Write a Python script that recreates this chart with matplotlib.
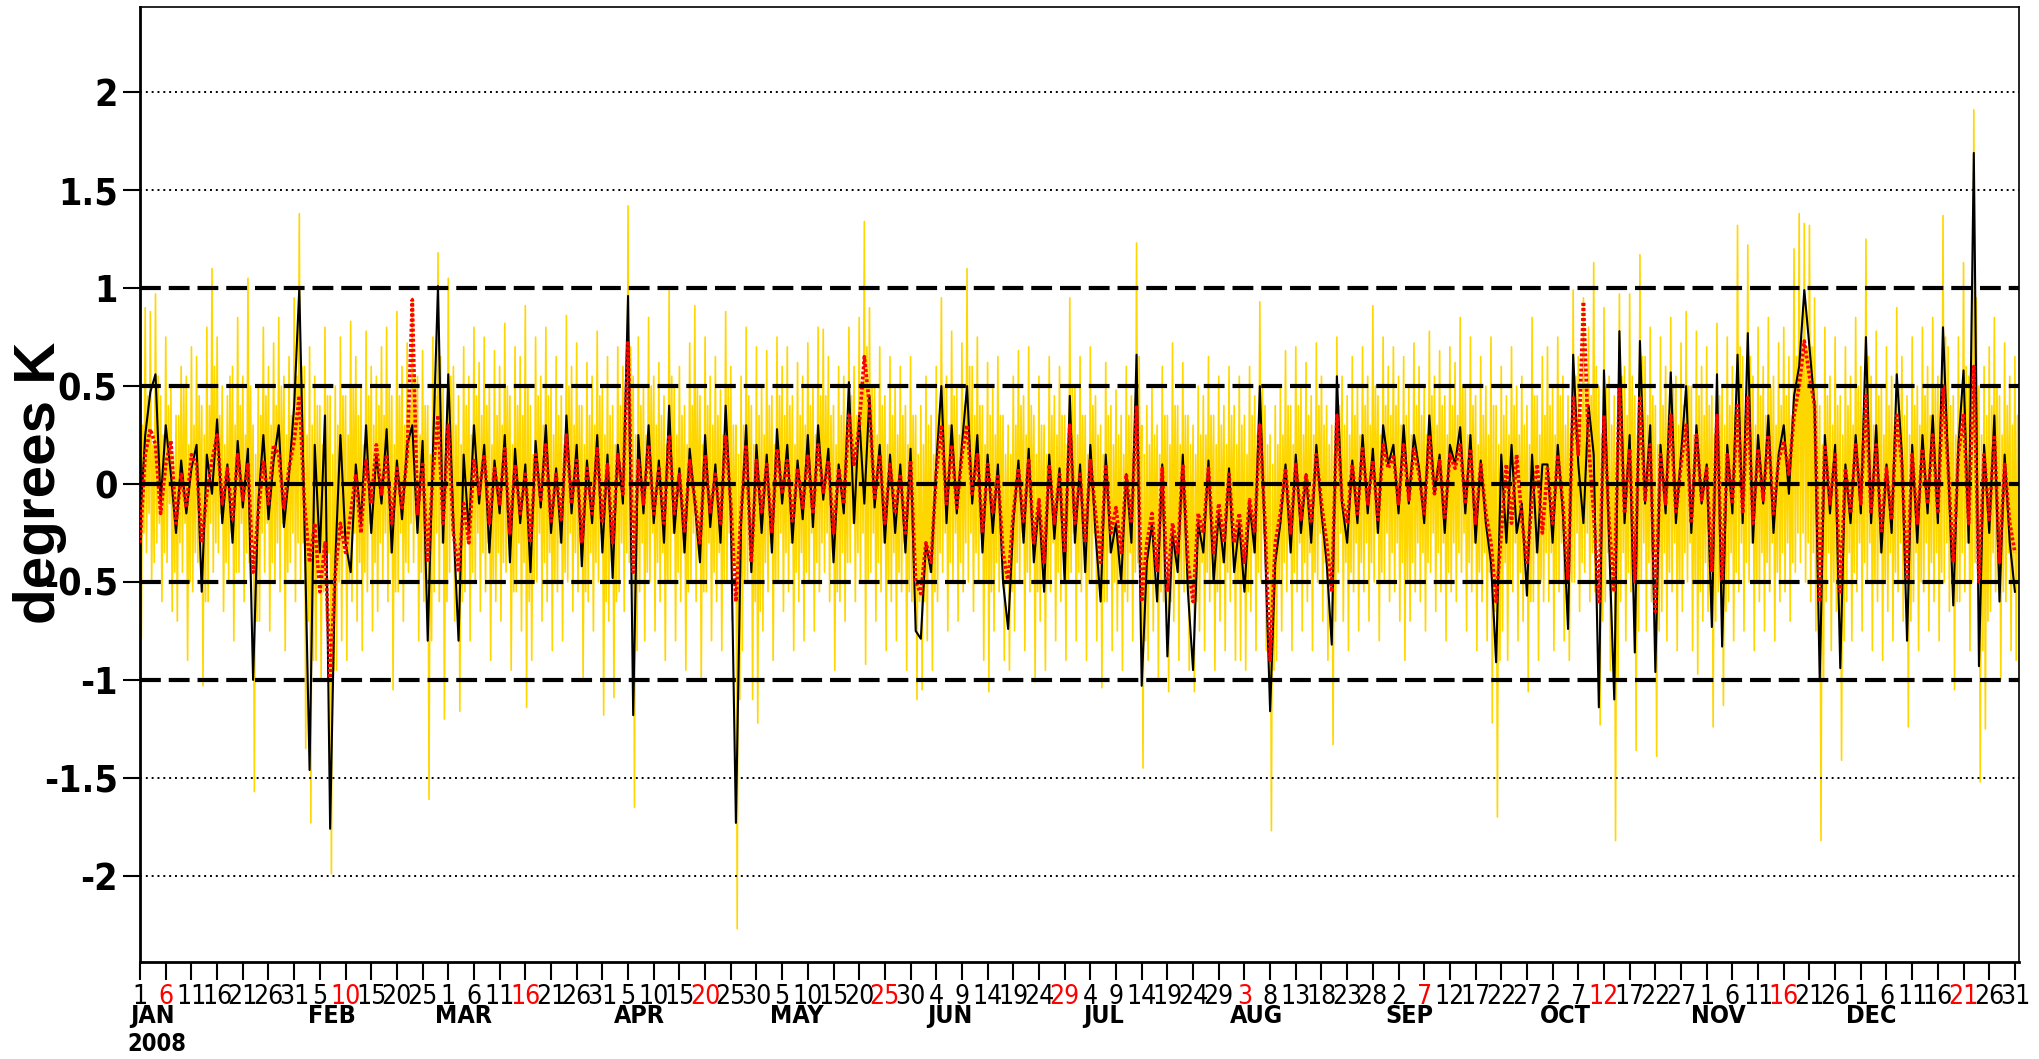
import datetime as dt
import os

import numpy as np
import matplotlib
matplotlib.use("Agg")
import matplotlib.pyplot as plt
from matplotlib import font_manager
from matplotlib.font_manager import FontProperties

# daily series, hundredths of a degree, one line per month (2008, 366 days)
black_k = [
    -20, 25, 47, 56, -10, 30, 5, -25, 12, -15, 8, 20, -55, 15, -5, 33, -20, 10, -30, 22, -12, 18, -100, -10, 25, -18, 12, 30, -22, 5, 40,
    100, -20, -146, 20, -35, 35, -176, -40, 25, -30, -45, 10, -20, 30, -25, 15, -10, 28, -35, 12, -18, 20, 30, -25, 22, -80, 15, 101, -30,
    56, -20, -80, 15, -25, 30, -10, 20, -35, 12, -15, 25, -40, 18, -20, 10, -45, 22, -12, 30, -25, 8, -30, 35, -15, 20, -42, 12, -20, 25, -35,
    15, -48, 20, -10, 96, -118, 25, -15, 30, -20, 12, -30, 40, -25, 8, -35, 18, -10, -40, 25, -22, 10, -30, 40, -15, -173, -20, 30, -45, 20,
    -25, 15, -35, 28, -10, 20, -30, 12, -18, 25, -22, 30, -8, 18, -40, 10, -15, 52, -20, 35, -10, 45, -12, 20, -30, 15, -25, 10, -35, 18, -75,
    -79, -30, -45, 10, 50, -20, 30, -15, 20, 50, -10, 25, -35, 15, -25, 10, -50, -74, -20, 12, -30, 18, -40, -10, -55, 15, -28, 8, -50, 45,
    -30, 10, -45, 20, -25, -60, 15, -35, -20, -50, 5, -30, 66, -103, -40, -20, -60, 10, -88, -25, -45, 15, -55, -95, -20, -35, 12, -50, -15, -40, 8,
    -45, -20, -55, -10, -35, 50, -30, -116, -40, -20, 10, -35, 15, -25, 5, -30, 20, -15, -40, -82, 55, -10, -30, 12, -20, 25, -15, 18, -25, 30, 10,
    20, -15, 30, -10, 25, 8, -20, 35, -5, 15, -25, 20, 10, 29, -15, 25, -30, 12, -20, -40, -91, 15, -30, 20, -25, -10, -57, 15, -35, 10,
    10, -30, 20, -15, -74, 66, 10, -20, 40, 15, -114, 58, -30, -110, 78, -20, 25, -86, 73, -10, 30, -96, 20, -15, 57, -20, 15, 50, -25, 30, -10,
    10, -73, 56, -83, 20, -15, 66, -20, 77, -30, 25, -10, 35, -25, 15, 30, -5, 45, 60, 99, 70, 40, -100, 25, -15, 20, -94, 10, -20, 25,
    -15, 75, -20, 30, -35, 10, -25, 56, 15, -80, 20, -30, 25, -15, 35, -20, 80, 10, -62, 20, 58, -30, 169, -93, 20, -25, 35, -60, 15, -30, -55,
]

red_k = [
    -30, 15, 28, 20, -15, 10, 22, -20, 5, -12, 15, 10, -30, -5, 12, 25, -10, 8, -18, 15, -8, 10, -45, -15, 12, -10, 20, 15, -12, 8, 22,
    45, -10, -40, -20, -55, -30, -99, -45, -20, -35, -15, 5, -25, 12, -10, 20, -5, 15, -20, 8, -12, 15, 94, -15, 10, -40, 5, 35, -20,
    30, -25, -45, -10, -30, 12, -5, 15, -20, 8, -10, 18, -25, 10, -15, 5, -30, 15, -8, 20, -20, 5, -18, 25, -10, 12, -30, 8, -15, 18, -20,
    10, -30, 15, -5, 73, -45, 12, -10, 20, -15, 8, -20, 25, -15, 5, -25, 12, -8, -30, 15, -15, 5, -20, 25, -10, -60, -15, 20, -40, 12,
    -15, 10, -25, 18, -5, 12, -20, 8, -12, 15, -15, 20, -5, 12, -25, 8, -10, 35, 10, 30, 65, 40, -8, 15, -20, 10, -15, 5, -25, 12, -50,
    -56, -30, -40, 5, 30, -10, 20, -12, 15, 30, -5, 15, -25, 10, -15, 5, -35, -50, -15, 8, -20, 12, -30, -8, -40, 10, -20, 5, -35, 30,
    -20, 5, -30, 12, -15, -40, 10, -25, -12, -35, 5, -20, 40, -60, -30, -15, -45, 8, -55, -20, -35, 10, -40, -60, -15, -25, 8, -35, -10, -30, 5,
    -30, -15, -40, -8, -25, 30, -20, -90, -30, -15, 8, -25, 10, -18, 5, -20, 15, -10, -30, -55, 35, -8, -20, 10, -15, 18, -10, 12, -18, 20, 8,
    15, -10, 20, -8, 18, 5, -15, 25, -5, 12, -18, 15, 8, 20, -10, 18, -20, 10, -15, -30, -60, -25, 10, -20, 15, -18, -40, -8, 10, -25,
    8, -20, 15, -10, -50, 45, 15, 93, 20, -15, -60, 35, -20, -55, 50, -15, 18, -50, 45, -8, 20, -65, 15, -10, 35, -15, 10, 30, -20, 25, -8,
    8, -45, 35, -50, 15, -10, 40, -15, 45, -20, 18, -8, 25, -15, 12, 22, 5, 35, 50, 73, 55, 40, -60, 20, -10, 15, -55, 8, -15, 20,
    -10, 45, -15, 20, -25, 8, -18, 35, 10, -50, 15, -20, 18, -10, 25, -15, 50, 8, -40, 15, 35, -20, 60, -50, 15, -18, 25, -40, 10, -20, -35,
]

# sub-daily series: main peak and trough of each day
yellow_k = [
    40, -79, 90, -35, 88, -50, 97, -30, 45, -60, 75, -40, 50, -65, 35, -70, 60, -45, 55, -90, 70, -55, 65, -40, 40, -103, 80, -60, 110, -45, 75, -35,
    50, -65, 45, -50, 60, -80, 85, -45, 55, -60, 105, -40, 30, -157, 50, -70, 80, -45, 60, -75, 72, -50, 85, -55, 55, -85, 65, -40, 95, -60,
    138, -50, 60, -135, 70, -173, 55, -90, 40, -100, 80, -70, 45, -199, 50, -95, 75, -80, 45, -90, 83, -60, 65, -70, 50, -85, 78, -55, 60, -75,
    55, -65, 70, -50, 80, -60, 45, -105, 88, -55, 60, -70, 72, -45, 95, -40, 55, -80, 68, -60, 40, -161, 75, -55, 118, -60, 50, -120,
    105, -45, 60, -70, 45, -116, 70, -55, 55, -80, 80, -50, 62, -65, 75, -55, 50, -90, 68, -60, 60, -70, 82, -45, 45, -95, 70, -55, 65, -75,
    91, -114, 40, -90, 75, -50, 55, -70, 80, -60, 50, -85, 65, -55, 45, -80, 86, -50, 60, -65, 72, -55, 40, -100, 62, -60, 55, -75, 78, -50, 50, -118,
    65, -70, 40, -109, 70, -55, 60, -65, 142, -40, 55, -165, 75, -55, 50, -80, 85, -50, 55, -75, 62, -60, 45, -90, 99, -50, 50, -80, 60, -60,
    40, -95, 72, -50, 91, -60, 45, -100, 75, -55, 55, -80, 65, -60, 48, -85, 88, -50, 60, -70, 30, -227, 55, -85, 80, -50, 40, -110, 70, -122,
    50, -75, 68, -55, 45, -90, 75, -50, 60, -65, 70, -55, 45, -85, 62, -60, 55, -80, 72, -50, 50, -75, 80, -55, 79, -45, 65, -60, 40, -95, 60, -60,
    55, -70, 80, -40, 60, -60, 85, -50, 134, -92, 90, -45, 50, -70, 70, -55, 45, -85, 65, -60, 50, -80, 60, -55, 40, -95, 65, -60, 35, -110,
    40, -105, 55, -80, 35, -95, 60, -60, 95, -45, 55, -75, 78, -50, 50, -70, 72, -55, 110, -50, 60, -65, 75, -50, 40, -90, 62, -106, 50, -75,
    65, -55, 35, -90, 30, -95, 55, -75, 68, -50, 45, -85, 70, -55, 35, -101, 55, -70, 30, -95, 65, -55, 45, -80, 60, -60, 35, -90, 95, -45,
    50, -80, 65, -55, 35, -90, 70, -50, 45, -80, 30, -104, 62, -60, 40, -85, 48, -75, 35, -95, 60, -60, 45, -80, 123, -40, 30, -145, 40, -90,
    50, -75, 30, -100, 60, -60, 35, -106, 72, -70, 40, -90, 62, -55, 35, -95, 30, -106, 50, -75, 45, -85, 65, -60, 35, -95, 55, -70, 40, -85, 60, -60,
    40, -90, 55, -90, 35, -95, 60, -65, 45, -85, 93, -50, 40, -85, 25, -177, 40, -90, 50, -75, 68, -55, 40, -85, 70, -55, 50, -75, 62, -60, 45, -85,
    72, -50, 55, -70, 40, -90, 30, -133, 75, -45, 55, -70, 45, -85, 65, -55, 50, -75, 70, -55, 55, -70, 91, -50, 45, -80, 75, -50, 60, -60,
    70, -55, 55, -70, 65, -90, 50, -70, 72, -55, 60, -60, 50, -75, 78, -45, 55, -65, 68, -55, 45, -80, 70, -55, 62, -60, 85, -45, 50, -75,
    75, -55, 45, -85, 65, -60, 50, -80, 75, -122, 40, -170, 60, -75, 45, -90, 70, -55, 50, -80, 55, -70, 40, -106, 85, -60, 45, -90, 65, -60,
    70, -60, 50, -85, 75, -55, 55, -80, 45, -90, 99, -50, 65, -65, 95, -45, 80, -60, 113, -55, 50, -123, 90, -60, 55, -95, 45, -182, 97, -60, 60, -80,
    97, -55, 45, -136, 117, -50, 65, -75, 80, -60, 40, -139, 75, -65, 60, -80, 85, -55, 55, -85, 72, -65, 88, -50, 50, -85, 78, -97, 60, -70,
    70, -65, 45, -124, 82, -55, 50, -113, 75, -60, 60, -80, 132, -55, 65, -75, 122, -50, 55, -85, 80, -60, 60, -75, 85, -55, 55, -80, 72, -60,
    80, -55, 65, -70, 120, -45, 138, -40, 133, -50, 132, -60, 95, -75, 40, -182, 80, -60, 55, -85, 75, -65, 45, -141, 70, -60, 55, -80, 85, -55,
    60, -75, 125, -50, 55, -85, 78, -60, 50, -90, 70, -65, 55, -80, 90, -55, 65, -70, 45, -124, 75, -60, 50, -85, 80, -55, 60, -75, 85, -60, 55, -80,
    137, -50, 70, -65, 45, -105, 75, -60, 113, -55, 55, -85, 191, -40, 50, -152, 60, -125, 70, -65, 85, -55, 45, -100, 72, -60, 55, -85, 65, -90,
]

# sub-daily series: second, smaller peak and trough of each day
yellow2_k = [
    30, -25, 45, -15, 20, -40, 55, -20, 25, -35, 40, -10, 15, -45, 35, -30, 50, -20, 20, -50, 30, -35, 45, -25, 25, -60, 40, -20, 60, -30, 35, -15,
    20, -40, 55, -25, 30, -45, 40, -20, 25, -35, 50, -30, 15, -70, 35, -25, 45, -20, 30, -40, 40, -30, 50, -20, 25, -45, 35, -25, 55, -30,
    60, -30, 25, -70, 30, -90, 40, -45, 20, -55, 45, -35, 15, -95, 30, -50, 45, -30, 25, -50, 50, -25, 35, -40, 20, -45, 45, -20, 30, -40,
    40, -30, 35, -25, 50, -35, 20, -55, 45, -25, 30, -40, 40, -20, 55, -15, 25, -45, 40, -30, 15, -80, 45, -25, 65, -30, 25, -60,
    55, -25, 30, -40, 20, -60, 40, -30, 25, -45, 45, -25, 35, -35, 40, -30, 20, -50, 35, -35, 30, -40, 50, -20, 20, -55, 40, -30, 35, -40,
    50, -60, 15, -50, 45, -25, 30, -40, 45, -35, 25, -50, 35, -30, 20, -45, 50, -25, 30, -35, 40, -30, 20, -55, 35, -35, 30, -40, 45, -25, 25, -60,
    35, -40, 20, -60, 40, -30, 30, -35, 70, -20, 25, -85, 40, -30, 25, -45, 50, -25, 30, -40, 35, -35, 20, -50, 55, -25, 25, -45, 35, -35,
    20, -55, 40, -25, 50, -35, 20, -55, 40, -30, 30, -45, 35, -35, 25, -50, 50, -25, 30, -40, 15, -110, 30, -50, 45, -25, 20, -60, 35, -65,
    25, -40, 40, -30, 20, -50, 45, -25, 35, -35, 40, -30, 20, -45, 35, -35, 30, -45, 40, -25, 25, -40, 45, -30, 45, -25, 35, -35, 20, -55, 35, -35,
    30, -40, 45, -20, 35, -35, 50, -25, 70, -50, 50, -25, 25, -40, 40, -30, 20, -50, 35, -35, 25, -45, 35, -30, 20, -55, 35, -35, 15, -60,
    20, -60, 30, -45, 15, -55, 35, -35, 50, -25, 30, -40, 45, -25, 25, -40, 40, -30, 60, -25, 35, -35, 40, -25, 20, -50, 35, -55, 25, -40,
    35, -30, 15, -50, 15, -55, 30, -40, 40, -25, 25, -45, 40, -30, 15, -55, 30, -40, 15, -50, 35, -30, 25, -45, 35, -35, 20, -50, 50, -25,
    25, -45, 35, -30, 15, -50, 40, -25, 25, -45, 15, -60, 35, -35, 20, -50, 25, -40, 15, -55, 35, -35, 25, -45, 65, -20, 15, -80, 20, -50,
    25, -40, 15, -55, 35, -35, 20, -60, 40, -40, 20, -50, 35, -30, 20, -55, 15, -60, 25, -40, 25, -45, 35, -35, 20, -55, 30, -40, 20, -45, 35, -35,
    20, -50, 30, -50, 15, -55, 35, -35, 25, -45, 50, -25, 20, -45, 10, -95, 20, -50, 25, -40, 40, -30, 20, -45, 40, -30, 25, -40, 35, -35, 25, -45,
    40, -25, 30, -40, 20, -50, 15, -70, 40, -25, 30, -40, 25, -45, 35, -30, 25, -40, 40, -30, 30, -40, 50, -25, 25, -45, 40, -25, 35, -35,
    40, -30, 30, -40, 35, -50, 25, -40, 40, -30, 35, -35, 25, -40, 45, -25, 30, -35, 40, -30, 25, -45, 40, -30, 35, -35, 50, -25, 25, -40,
    40, -30, 20, -45, 35, -35, 25, -45, 40, -65, 20, -90, 35, -40, 25, -50, 40, -30, 25, -45, 30, -40, 20, -60, 45, -35, 25, -50, 35, -35,
    40, -35, 25, -50, 45, -30, 30, -45, 25, -50, 55, -25, 35, -40, 50, -25, 45, -35, 60, -30, 25, -70, 50, -35, 30, -55, 20, -100, 55, -35, 35, -45,
    55, -30, 25, -75, 65, -30, 35, -40, 45, -35, 20, -75, 40, -35, 35, -45, 50, -30, 30, -50, 40, -35, 50, -30, 25, -50, 45, -55, 35, -40,
    40, -35, 25, -70, 45, -30, 30, -65, 40, -35, 35, -45, 70, -30, 35, -40, 65, -30, 30, -50, 45, -35, 35, -40, 50, -30, 30, -45, 40, -35,
    45, -30, 35, -40, 65, -25, 75, -25, 70, -30, 70, -35, 50, -40, 20, -100, 45, -35, 30, -50, 40, -35, 25, -80, 40, -35, 30, -45, 50, -30,
    35, -40, 65, -30, 30, -50, 45, -35, 25, -50, 40, -35, 30, -45, 50, -30, 35, -40, 25, -70, 40, -35, 30, -50, 45, -30, 35, -40, 50, -35, 30, -45,
    75, -30, 40, -35, 25, -60, 40, -35, 60, -30, 30, -50, 95, -25, 25, -85, 35, -70, 40, -35, 50, -30, 25, -55, 40, -35, 30, -50, 35, -50,
]

assert len(black_k) == 366 and len(red_k) == 366
assert len(yellow_k) == 732 and len(yellow2_k) == 732

month_names = ["JAN", "FEB", "MAR", "APR", "MAY", "JUN", "JUL", "AUG", "SEP", "OCT", "NOV", "DEC"]
month_label_day = [3.5, 38.4, 63.9, 98.3, 128.9, 158.7, 188.5, 218.3, 248.2, 278.4, 308.2, 338.0]
y_ticks = [-2, -1.5, -1, -0.5, 0, 0.5, 1, 1.5, 2]
y_tick_labels = ["-2", "-1.5", "-1", "-0.5", "0", "0.5", "1", "1.5", "2"]
dashed_levels = [-1, -0.5, 0, 0.5, 1]
dotted_levels = [-2, -1.5, 1.5, 2]


def pick_narrow(bold):
    """Find a narrow/condensed sans face on the system, None if there is none."""
    files = font_manager.findSystemFonts()
    cands = []
    for f in files:
        b = os.path.basename(f).lower()
        if not ("narrow" in b or "condensed" in b):
            continue
        if any(k in b for k in ("italic", "oblique", "light", "thin", "semi", "medium", "black", "extra")):
            continue
        if ("bold" in b) != bold:
            continue
        rank = 0 if "liberation" in b else (1 if "dejavusans" in b and "mono" not in b else 2)
        if "mono" in b or "serif" in b:
            rank = 5
        cands.append((rank, b, f))
    cands.sort()
    return cands[0][2] if cands else None


narrow_reg = pick_narrow(False)
narrow_bold = pick_narrow(True)


def fp(size, bold=False):
    path = narrow_bold if bold else narrow_reg
    if path:
        return FontProperties(fname=path, size=size)
    return FontProperties(family="Liberation Sans", size=size * 0.85, weight="bold" if bold else "normal")


days = np.arange(1, 367)
quarter_days = np.arange(1, 367, 0.25)
# interleave: main peak, main trough, second peak, second trough
yellow_all = np.column_stack([np.reshape(yellow_k, (-1, 2)), np.reshape(yellow2_k, (-1, 2))]).ravel()

fig = plt.figure(figsize=(20.39, 10.59), dpi=100)
ax = fig.add_axes([0.0687, 0.0916, 0.9215, 0.9018])

ax.plot(quarter_days, yellow_all / 100.0, color="#FFD700", lw=1.2, zorder=1)
ax.plot(days, np.array(black_k) / 100.0, color="black", lw=1.5, zorder=2)
ax.plot(days, np.array(red_k) / 100.0, color="#FF0000", lw=2.6, ls=(0, (0.8, 0.6)), zorder=3)

for lvl in dashed_levels:
    ax.axhline(lvl, color="black", lw=3.0, ls=(0, (5, 1.9)), zorder=4)
for lvl in dotted_levels:
    ax.axhline(lvl, color="black", lw=1.4, ls=(0, (1, 2)), zorder=4)

ax.set_xlim(1, 366.8)
ax.set_ylim(-2.44, 2.435)

# x ticks every 5 days, day-of-month labels, every 7th in red
tick_days = list(range(1, 367, 5))
tick_labels = [str((dt.date(2008, 1, 1) + dt.timedelta(days=d - 1)).day) for d in tick_days]
ax.set_xticks(tick_days)
ax.set_xticklabels(tick_labels, fontproperties=fp(19))
for i, lbl in enumerate(ax.get_xticklabels()):
    lbl.set_color("red" if i % 7 == 1 else "black")
ax.tick_params(axis="x", length=13, width=1.5, pad=3)

ax.set_yticks(y_ticks)
ax.set_yticklabels(y_tick_labels, fontproperties=fp(27, bold=True))
ax.tick_params(axis="y", length=12, width=1.5, pad=4)

for name, d in zip(month_names, month_label_day):
    ax.text(d, -0.057, name, transform=ax.get_xaxis_transform(), ha="center", va="center",
            fontproperties=fp(18, bold=True))
ax.text(-1.5, -0.086, "2008", transform=ax.get_xaxis_transform(), ha="left", va="center",
        fontproperties=fp(17, bold=True))

fig.text(40 / 2039, 1 - 483 / 1059, "degrees K", rotation=90, ha="center", va="center",
         fontsize=42, fontweight="bold", family=["Liberation Sans", "DejaVu Sans"])

for side in ["left", "bottom"]:
    ax.spines[side].set_linewidth(2.0)
for side in ["top", "right"]:
    ax.spines[side].set_linewidth(1.2)

fig.savefig("out.png", dpi=100)
